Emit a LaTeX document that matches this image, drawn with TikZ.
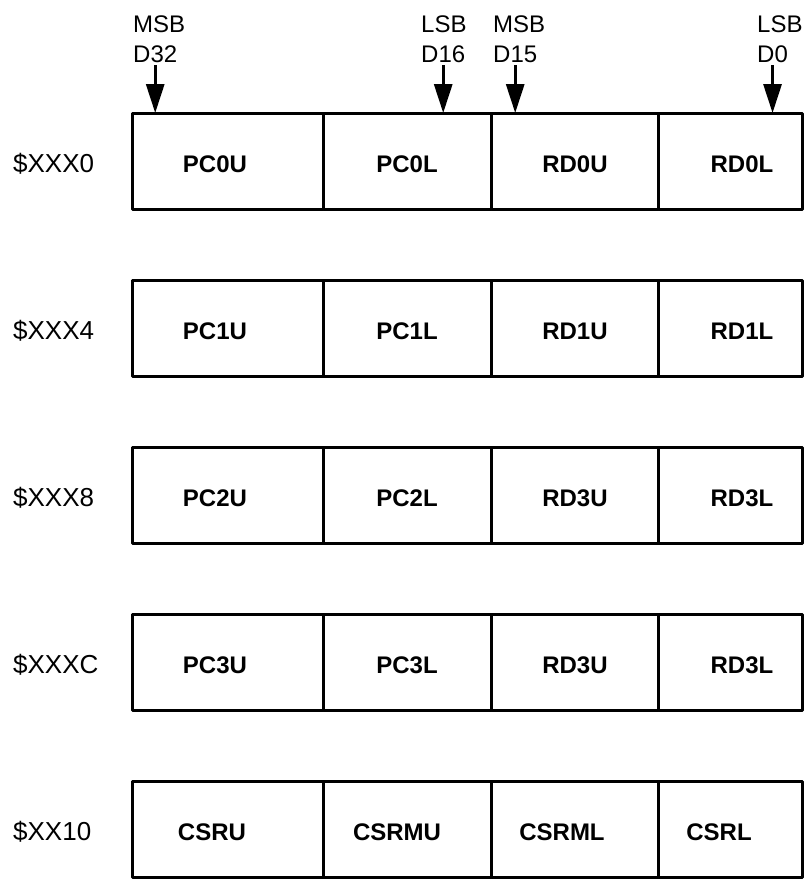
\documentclass[tikz,border=0pt]{standalone}
\usepackage{fontspec}
\setmainfont{Liberation Sans}
\usetikzlibrary{arrows.meta}
\tikzset{
	cell/.style={draw, line width=3pt, minimum height=96pt, inner sep=0pt, outer sep=0pt},
	reg/.style={font=\fontsize{24}{29}\selectfont\bfseries, inner sep=0pt, anchor=base},
	addr/.style={font=\fontsize{26}{31}\selectfont, inner sep=0pt, anchor=base west},
	bitlbl/.style={inner sep=0pt, inner ysep=3pt, anchor=base west}
}
\begin{document}
\begin{tikzpicture}[x=1pt, y=-1pt, font=\fontsize{24}{29}\selectfont, line join=round, >={Triangle[width=18pt,length=29pt]}]
	\useasboundingbox (0,0) rectangle (807,879);
	% address rows
	\foreach \row/\y/\adr/\pcu/\pcl/\rdu/\rdl in {1/161/XXX0/PC0U/PC0L/RD0U/RD0L, 2/328/XXX4/PC1U/PC1L/RD1U/RD1L, 3/495/XXX8/PC2U/PC2L/RD3U/RD3L, 4/662/XXXC/PC3U/PC3L/RD3U/RD3L}{
		\node[addr] (adr\row) at (13,\y+11) {\$\adr};
		\node[cell, minimum width=191pt] (r\row a) at (227.5,\y) {};
		\node[cell, minimum width=168pt] (r\row b) at (407,\y) {};
		\node[cell, minimum width=167pt] (r\row c) at (574.5,\y) {};
		\node[cell, minimum width=144pt] (r\row d) at (730,\y) {};
		\node[reg] (t\row a) at (215,\y+11) {\pcu};
		\node[reg] (t\row b) at (407,\y+11) {\pcl};
		\node[reg] (t\row c) at (575,\y+11) {\rdu};
		\node[reg] (t\row d) at (742,\y+11) {\rdl};
	}
	% status row
	\node[addr] (adr5) at (13,840) {\$XX10};
	\node[cell, minimum width=191pt] (r5a) at (227.5,829) {};
	\node[cell, minimum width=168pt] (r5b) at (407,829) {};
	\node[cell, minimum width=167pt] (r5c) at (574.5,829) {};
	\node[cell, minimum width=144pt] (r5d) at (730,829) {};
	\node[reg] (t5a) at (212,840) {CSRU};
	\node[reg] (t5b) at (397,840) {CSRMU};
	\node[reg] (t5c) at (562,840) {CSRML};
	\node[reg] (t5d) at (719,840) {CSRL};
	% bit order marks
	\foreach \n/\x/\sig/\bit in {a/133/MSB/D32, b/421/LSB/D16, c/493/MSB/D15, d/757/LSB/D0}{
		\node[bitlbl] (sig\n) at (\x,32) {\sig};
		\node[bitlbl] (bit\n) at (\x,62) {\bit};
		\draw[->, line width=3pt] (bit\n.south) -- (bit\n.south |- r1a.north);
	}
\end{tikzpicture}
\end{document}
